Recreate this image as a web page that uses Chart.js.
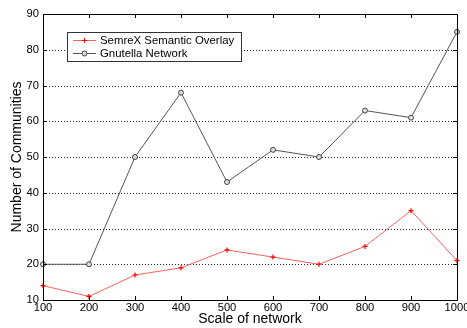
<!DOCTYPE html>
<html>
<head>
<meta charset="utf-8">
<script src="https://cdn.jsdelivr.net/npm/chart.js@4/dist/chart.umd.min.js"></script>
<style>
html,body{margin:0;padding:0;background:#fff;}
#wrap{width:467px;height:328px;}
</style>
</head>
<body>
<div id="wrap"><canvas id="c" width="467" height="328"></canvas></div>
<script>
const scales_x = [100, 200, 300, 400, 500, 600, 700, 800, 900, 1000];
const semrex = [14, 11, 17, 19, 24, 22, 20, 25, 35, 21];
const gnutella = [20, 20, 50, 68, 43, 52, 50, 63, 61, 85];
const seriesNames = ['SemreX Semantic Overlay', 'Gnutella Network'];
const yTicks = [10, 20, 30, 40, 50, 60, 70, 80, 90];

const FONT = '"Liberation Sans", Arial, sans-serif';

const boxAndTicks = {
  id: 'boxAndTicks',
  beforeDatasetsDraw(chart) {
    const ctx = chart.ctx, a = chart.chartArea, ys = chart.scales.y;
    ctx.save();
    ctx.strokeStyle = '#222';
    ctx.lineWidth = 1;
    ctx.setLineDash([1, 2]);
    ctx.beginPath();
    ys.ticks.forEach(t => {
      if (t.value === yTicks[0] || t.value === yTicks[yTicks.length - 1]) return;
      const py = Math.round(ys.getPixelForValue(t.value)) + 0.5;
      ctx.moveTo(a.left, py); ctx.lineTo(a.right, py);
    });
    ctx.stroke();
    ctx.restore();
  },
  afterDraw(chart) {
    const ctx = chart.ctx, a = chart.chartArea;
    const xs = chart.scales.x, ys = chart.scales.y;
    ctx.save();
    ctx.strokeStyle = '#000';
    ctx.lineWidth = 1;
    ctx.setLineDash([]);
    ctx.strokeRect(Math.round(a.left) + 0.5, Math.round(a.top) + 0.5, Math.round(a.right - a.left), Math.round(a.bottom - a.top));
    ctx.beginPath();
    xs.ticks.forEach(t => {
      const px = Math.round(xs.getPixelForValue(t.value)) + 0.5;
      ctx.moveTo(px, a.bottom); ctx.lineTo(px, a.bottom - 4);
      ctx.moveTo(px, a.top); ctx.lineTo(px, a.top + 4);
    });
    ys.ticks.forEach(t => {
      const py = Math.round(ys.getPixelForValue(t.value)) + 0.5;
      ctx.moveTo(a.left, py); ctx.lineTo(a.left + 4, py);
      ctx.moveTo(a.right, py); ctx.lineTo(a.right - 4, py);
    });
    ctx.stroke();

    // legend
    const lx = 67, ly = 32, lw = 174, lh = 29;
    ctx.fillStyle = '#fff';
    ctx.fillRect(lx, ly, lw, lh);
    ctx.strokeStyle = '#333';
    ctx.strokeRect(lx + 0.5, ly + 0.5, lw, lh);
    ctx.font = '11.4px ' + FONT;
    ctx.textBaseline = 'middle';
    chart.data.datasets.forEach((ds, i) => {
      const yy = ly + 8 + i * 13 + 0.5;
      ctx.strokeStyle = ds.borderColor;
      ctx.beginPath(); ctx.moveTo(lx + 6, yy); ctx.lineTo(lx + 29, yy); ctx.stroke();
      const cx = lx + 17.5;
      ctx.strokeStyle = ds.pointBorderColor;
      if (ds.pointStyle === 'circle') {
        ctx.fillStyle = ds.pointBackgroundColor;
        ctx.beginPath(); ctx.arc(cx, yy, 2.5, 0, Math.PI * 2); ctx.fill(); ctx.stroke();
      } else {
        ctx.beginPath(); ctx.moveTo(cx - 2.5, yy); ctx.lineTo(cx + 2.5, yy); ctx.moveTo(cx, yy - 2.5); ctx.lineTo(cx, yy + 2.5); ctx.stroke();
      }
      ctx.fillStyle = '#000';
      ctx.fillText(ds.label, lx + 33, yy);
    });
    ctx.restore();
  }
};

new Chart(document.getElementById('c'), {
  type: 'line',
  data: {
    datasets: [
      {
        label: seriesNames[0],
        data: scales_x.map((x, i) => ({x, y: semrex[i]})),
        borderColor: '#ff6060',
        borderWidth: 1,
        pointStyle: 'cross',
        pointRadius: 2.5,
        pointBorderColor: '#ff0000',
        pointBorderWidth: 1.2,
        pointBackgroundColor: '#ff0000',
        tension: 0,
        clip: false
      },
      {
        label: seriesNames[1],
        data: scales_x.map((x, i) => ({x, y: gnutella[i]})),
        borderColor: '#555',
        borderWidth: 1,
        pointStyle: 'circle',
        pointRadius: 2.5,
        pointBorderColor: '#444',
        pointBorderWidth: 1,
        pointBackgroundColor: '#ddd',
        tension: 0,
        clip: false
      }
    ]
  },
  options: {
    responsive: false,
    animation: false,
    events: [],
    layout: { padding: { top: 14, right: 10, left: 0, bottom: 0 } },
    plugins: { legend: { display: false }, tooltip: { enabled: false } },
    scales: {
      x: {
        type: 'linear',
        min: scales_x[0],
        max: scales_x[scales_x.length - 1],
        afterFit(s) { s.height = 28; s.paddingLeft = 0; s.paddingRight = 0; },
        afterBuildTicks(s) { s.ticks = scales_x.map(v => ({value: v})); },
        ticks: { color: '#000', font: { family: FONT, size: 11.2 }, padding: 1, maxRotation: 0, autoSkip: false, callback: v => String(v) },
        grid: { display: false, drawTicks: false },
        border: { display: true, color: '#000' },
        title: { display: true, text: 'Scale of network', color: '#000', font: { family: FONT, size: 14 }, padding: { top: 0, bottom: 0 } }
      },
      y: {
        min: yTicks[0],
        max: yTicks[yTicks.length - 1],
        afterFit(s) { s.width = 43; s.paddingTop = 0; s.paddingBottom = 0; },
        afterBuildTicks(s) { s.ticks = yTicks.map(v => ({value: v})); },
        ticks: { color: '#000', font: { family: FONT, size: 11.2 }, padding: 4 },
        grid: { display: false, drawTicks: false },
        border: { display: true, color: '#000' },
        title: { display: true, text: 'Number of Communities', color: '#000', font: { family: FONT, size: 14 }, padding: { top: 9, bottom: 0 } }
      }
    }
  },
  plugins: [boxAndTicks]
});
</script>
</body>
</html>
